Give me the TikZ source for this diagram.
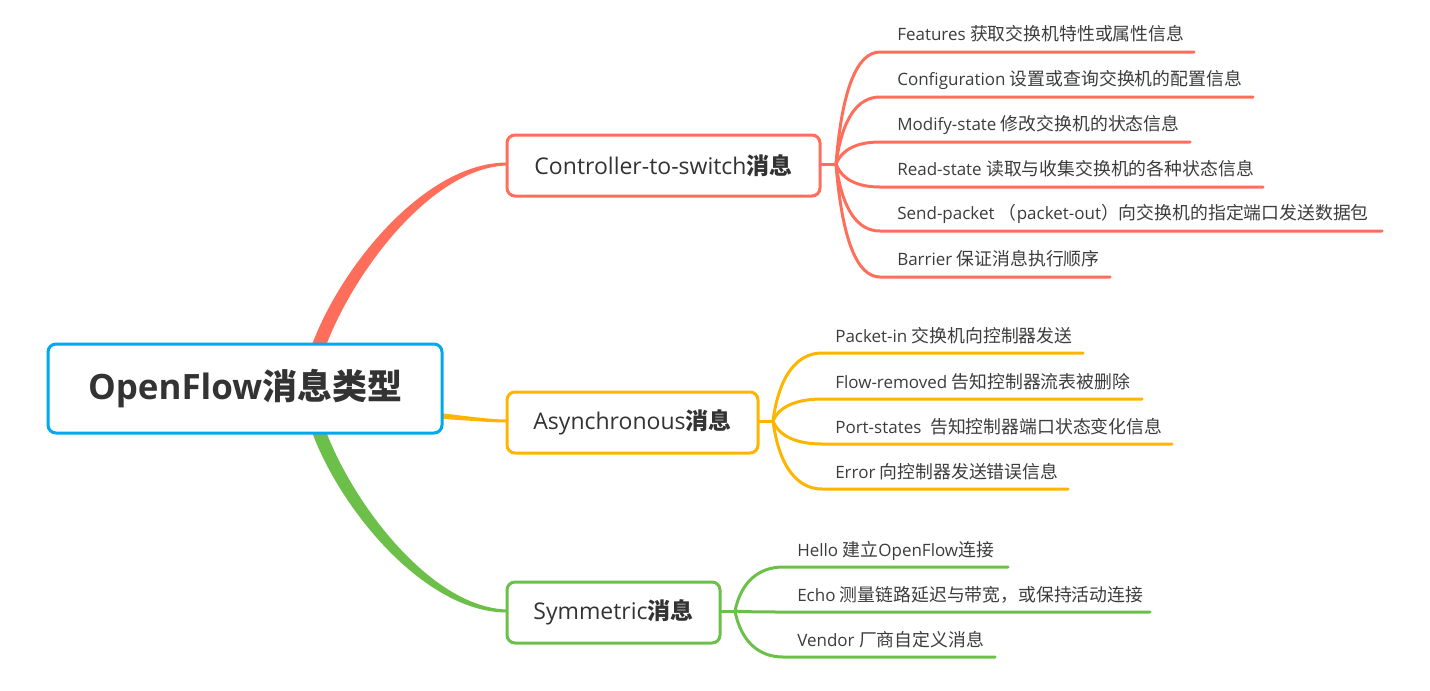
\documentclass[tikz,border=0pt]{standalone}
\usepackage{fontspec}
\setmainfont{Open Sans}
\newfontfamily\cjkA{Noto Sans CJK SC}
\newfontfamily\cjkB{Noto Sans CJK SC}[Scale=1.05]
\newcommand\zhA[1]{{\cjkA #1}}
\newcommand\zhB[1]{{\cjkB #1}}
\definecolor{cred}{RGB}{255,110,90}
\definecolor{corange}{RGB}{255,180,0}
\definecolor{cgreen}{RGB}{108,192,74}
\definecolor{cblue}{RGB}{0,168,238}
\definecolor{ctext}{RGB}{51,51,51}
\definecolor{cleaf}{RGB}{60,60,60}
\tikzset{
  rootbox/.style={draw=cblue, line width=2.25pt, rounded corners=6pt, fill=white,
    minimum width=295.5pt, minimum height=66.75pt, text=ctext,
    font=\fontsize{26.2}{30}\selectfont\bfseries},
  mainbox/.style={line width=2.25pt, rounded corners=6pt, fill=white,
    minimum height=45.75pt, text=ctext, font=\fontsize{17.25}{20}\selectfont},
  leaf/.style={anchor=base west, inner sep=0pt, text=cleaf, font=\fontsize{12.75}{15}\selectfont},
  twig/.style={line width=2.25pt, line cap=round},
}
\begin{document}
\begin{tikzpicture}[x=0.75pt,y=-0.75pt]
\useasboundingbox (0,0) rectangle (1430,690);
% tapered main branches
\fill[cred] (307,360) .. controls (330,280) and (420,162.5) .. (507,162.5) -- (507,165.5)
   .. controls (428,167.5) and (345,283) .. (321,360) -- cycle;
\fill[cgreen] (307,417) .. controls (330,497) and (420,612.5) .. (507,612.5) -- (507,609.5)
   .. controls (428,607.5) and (345,494) .. (321,417) -- cycle;
\fill[corange] (435,412.5) .. controls (470,416.5) and (490,419.5) .. (507,419.5) -- (507,422.5)
   .. controls (490,422.5) and (470,420.5) .. (435,418.5) -- cycle;
% root and main nodes
\node[rootbox] (root) at (245,388.5) {OpenFlow\zhA{消息类型}};
\node[mainbox, draw=cred, minimum width=234.75pt] (c2s) at (663.5,165.5) {Controller-to-switch\zhA{\bfseries 消息}};
\node[mainbox, draw=corange, minimum width=188.25pt] (async) at (632.5,422.5) {Asynchronous\zhA{\bfseries 消息}};
\node[mainbox, draw=cgreen, minimum width=159.75pt] (sym) at (613.5,612.5) {Symmetric\zhA{\bfseries 消息}};
% branch points
\coordinate (bC) at (836,164);
\coordinate (bA) at (773,421);
\coordinate (bS) at (735,611);
\draw[twig, cred] (c2s.east |- bC) -- (bC);
\draw[twig, corange] (async.east |- bA) -- (bA);
\draw[twig, cgreen] (sym.east |- bS) -- (bS);
% leaves: controller-to-switch
\node[leaf] (c1) at (897,40) {Features \zhB{获取交换机特性或属性信息}};
\node[leaf] (c2) at (897,85) {Configuration \zhB{设置或查询交换机的配置信息}};
\node[leaf] (c3) at (897,130) {Modify-state \zhB{修改交换机的状态信息}};
\node[leaf] (c4) at (897,175) {Read-state \zhB{读取与收集交换机的各种状态信息}};
\node[leaf] (c5) at (897,219) {Send-packet \zhB{（}packet-out\zhB{）向交换机的指定端口发送数据包}};
\node[leaf] (c6) at (897,265) {Barrier \zhB{保证消息执行顺序}};
\foreach \n/\y/\xe in {c1/52/1194, c2/97/1253, c3/142/1190, c4/187/1263, c5/231/1382, c6/277/1110}{
  \coordinate (\n e) at (\xe,\y);
  \draw[twig, cred] (bC) .. controls (842,{164+2/3*(\y-164)}) and (857,\y) .. (880,\y) -- (\n e);
}
% leaves: asynchronous
\node[leaf] (a1) at (835,342) {Packet-in \zhB{交换机向控制器发送}};
\node[leaf] (a2) at (835,388) {Flow-removed \zhB{告知控制器流表被删除}};
\node[leaf] (a3) at (835,433) {Port-states\ \ \zhB{告知控制器端口状态变化信息}};
\node[leaf] (a4) at (835,478) {Error \zhB{向控制器发送错误信息}};
\foreach \n/\y/\xe in {a1/353/1083, a2/399/1142, a3/444/1172, a4/489/1068}{
  \coordinate (\n e) at (\xe,\y);
  \draw[twig, corange] (bA) .. controls (779,{421+2/3*(\y-421)}) and (797,\y) .. (822,\y) -- (\n e);
}
% leaves: symmetric
\node[leaf] (s1) at (797,556) {Hello \zhB{建立}OpenFlow\zhB{连接}};
\node[leaf] (s2) at (797,601) {Echo \zhB{测量链路延迟与带宽，或保持活动连接}};
\node[leaf] (s3) at (797,646) {Vendor \zhB{厂商自定义消息}};
\foreach \n/\y/\xe in {s1/567/1008, s2/612/1150, s3/657/995}{
  \coordinate (\n e) at (\xe,\y);
  \draw[twig, cgreen] (bS) .. controls (741,{611+2/3*(\y-611)}) and (759,\y) .. (783,\y) -- (\n e);
}
\end{tikzpicture}
\end{document}
